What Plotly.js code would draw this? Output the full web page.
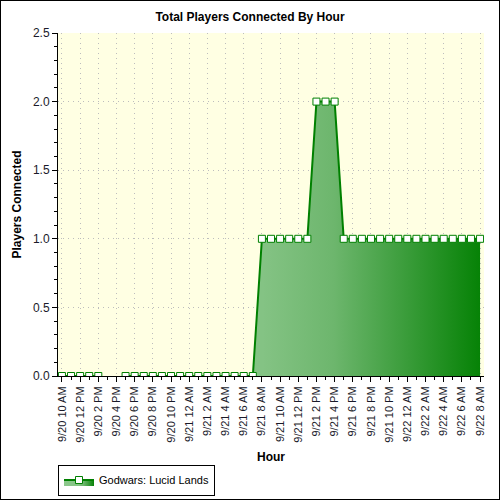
<!DOCTYPE html>
<html>
<head>
<meta charset="utf-8">
<script src="https://cdn.plot.ly/plotly-3.0.1.min.js"></script>
<style>
  body { margin: 0; background: #fff; }
  #chart { width: 498px; height: 498px; border: 1px solid #000; }
</style>
</head>
<body>
<div id="chart"></div>
<script>
// one sample per hour, 9/20 10 AM .. 9/22 8 AM
const hours = [
  '2011-09-20 10:00', '2011-09-20 11:00', '2011-09-20 12:00', '2011-09-20 13:00',
  '2011-09-20 14:00', '2011-09-20 15:00', '2011-09-20 16:00', '2011-09-20 17:00',
  '2011-09-20 18:00', '2011-09-20 19:00', '2011-09-20 20:00', '2011-09-20 21:00',
  '2011-09-20 22:00', '2011-09-20 23:00', '2011-09-21 00:00', '2011-09-21 01:00',
  '2011-09-21 02:00', '2011-09-21 03:00', '2011-09-21 04:00', '2011-09-21 05:00',
  '2011-09-21 06:00', '2011-09-21 07:00', '2011-09-21 08:00', '2011-09-21 09:00',
  '2011-09-21 10:00', '2011-09-21 11:00', '2011-09-21 12:00', '2011-09-21 13:00',
  '2011-09-21 14:00', '2011-09-21 15:00', '2011-09-21 16:00', '2011-09-21 17:00',
  '2011-09-21 18:00', '2011-09-21 19:00', '2011-09-21 20:00', '2011-09-21 21:00',
  '2011-09-21 22:00', '2011-09-21 23:00', '2011-09-22 00:00', '2011-09-22 01:00',
  '2011-09-22 02:00', '2011-09-22 03:00', '2011-09-22 04:00', '2011-09-22 05:00',
  '2011-09-22 06:00', '2011-09-22 07:00', '2011-09-22 08:00'
];
const players = [
  0, 0, 0, 0, 0, null, null, 0, 0, 0, 0, 0, 0, 0, 0, 0,
  0, 0, 0, 0, 0, 0, 1, 1, 1, 1, 1, 1, 2, 2, 2, 1,
  1, 1, 1, 1, 1, 1, 1, 1, 1, 1, 1, 1, 1, 1, 1
];
const tickHours = [
  '2011-09-20 10:00', '2011-09-20 12:00', '2011-09-20 14:00', '2011-09-20 16:00',
  '2011-09-20 18:00', '2011-09-20 20:00', '2011-09-20 22:00', '2011-09-21 00:00',
  '2011-09-21 02:00', '2011-09-21 04:00', '2011-09-21 06:00', '2011-09-21 08:00',
  '2011-09-21 10:00', '2011-09-21 12:00', '2011-09-21 14:00', '2011-09-21 16:00',
  '2011-09-21 18:00', '2011-09-21 20:00', '2011-09-21 22:00', '2011-09-22 00:00',
  '2011-09-22 02:00', '2011-09-22 04:00', '2011-09-22 06:00', '2011-09-22 08:00'
];
const tickLabels = [
  '9/20 10 AM', '9/20 12 PM', '9/20 2 PM', '9/20 4 PM', '9/20 6 PM', '9/20 8 PM',
  '9/20 10 PM', '9/21 12 AM', '9/21 2 AM', '9/21 4 AM', '9/21 6 AM', '9/21 8 AM',
  '9/21 10 AM', '9/21 12 PM', '9/21 2 PM', '9/21 4 PM', '9/21 6 PM', '9/21 8 PM',
  '9/21 10 PM', '9/22 12 AM', '9/22 2 AM', '9/22 4 AM', '9/22 6 AM', '9/22 8 AM'
];
const seriesName = 'Godwars: Lucid Lands';

const FONT = 'Liberation Sans, Arial, sans-serif';
const GREEN = '#008000';
const xRange = ['2011-09-20 09:34', '2011-09-22 08:26'];

var trace = {
  x: hours,
  y: players,
  type: 'scatter',
  mode: 'lines+markers',
  name: seriesName,
  fill: 'tozeroy',
  fillgradient: {
    type: 'horizontal',
    colorscale: [[0, '#8cc88c'], [0.48, '#84c384'], [0.65, '#6db66d'], [1, '#068206']]
  },
  line: {color: GREEN, width: 2},
  marker: {symbol: 'square', size: 7, color: '#ffffff', line: {color: GREEN, width: 1}}
};

var layout = {
  width: 498,
  height: 498,
  margin: {l: 57, r: 15, t: 32, b: 123},
  paper_bgcolor: '#ffffff',
  plot_bgcolor: '#ffffe3',
  font: {family: FONT, size: 11, color: '#000'},
  showlegend: true,
  title: {
    text: '<b>Total Players Connected By Hour</b>',
    font: {family: FONT, size: 12, color: '#000'},
    x: 0.5, xref: 'container', xanchor: 'center',
    y: 1 - 16 / 498, yref: 'container', yanchor: 'middle'
  },
  xaxis: {
    type: 'date',
    range: xRange,
    tickmode: 'array',
    tickvals: tickHours,
    ticktext: tickLabels,
    tickangle: -90,
    ticks: 'outside', ticklen: 5, tickcolor: '#000',
    minor: {dtick: 3600000, tick0: '2011-09-20 10:00', ticks: 'outside', ticklen: 3, tickcolor: '#000', showgrid: false},
    showline: true, linecolor: '#000', linewidth: 1,
    showgrid: true, gridcolor: '#bdbdbd', griddash: '1px,4px', gridwidth: 1,
    zeroline: false,
    tickfont: {family: FONT, size: 11, color: '#1a1a2a'},
    title: {text: '<b>Hour</b>', font: {family: FONT, size: 12, color: '#000'}, standoff: 10},
    fixedrange: true
  },
  yaxis: {
    range: [0, 2.5],
    dtick: 0.5,
    tickformat: '.1f',
    ticks: 'outside', ticklen: 5, tickcolor: '#000',
    minor: {dtick: 0.1, ticks: 'outside', ticklen: 3, tickcolor: '#000', showgrid: false},
    showline: true, linecolor: '#000', linewidth: 1,
    showgrid: true, gridcolor: '#bdbdbd', griddash: '1px,4px', gridwidth: 1,
    zeroline: false,
    tickfont: {family: FONT, size: 12, color: '#1a1a2a'},
    title: {text: '<b>Players Connected</b>', font: {family: FONT, size: 12, color: '#000'}, standoff: 8},
    fixedrange: true
  },
  // top / right frame with inward ticks
  xaxis2: {
    type: 'date', range: xRange, overlaying: 'x', side: 'top', anchor: 'y',
    tickmode: 'array', tickvals: tickHours, showticklabels: false,
    ticks: 'inside', ticklen: 3, tickcolor: '#000',
    showline: true, linecolor: '#000', showgrid: false, zeroline: false, fixedrange: true
  },
  yaxis2: {
    range: [0, 2.5], overlaying: 'y', side: 'right', anchor: 'x',
    dtick: 0.5, showticklabels: false,
    ticks: 'inside', ticklen: 5, tickcolor: '#000',
    minor: {dtick: 0.1, ticks: 'inside', ticklen: 3, tickcolor: '#000', showgrid: false},
    showline: true, linecolor: '#000', showgrid: false, zeroline: false, fixedrange: true
  },
  legend: {
    orientation: 'h',
    xref: 'container', yref: 'container',
    x: 57 / 498, xanchor: 'left',
    y: 1 - 479 / 498, yanchor: 'middle',
    bordercolor: '#000', borderwidth: 1,
    bgcolor: '#ffffff',
    font: {family: FONT, size: 11, color: '#000'},
    itemwidth: 30
  }
};

Plotly.newPlot('chart', [trace], layout, {displayModeBar: false, staticPlot: true});
</script>
</body>
</html>
